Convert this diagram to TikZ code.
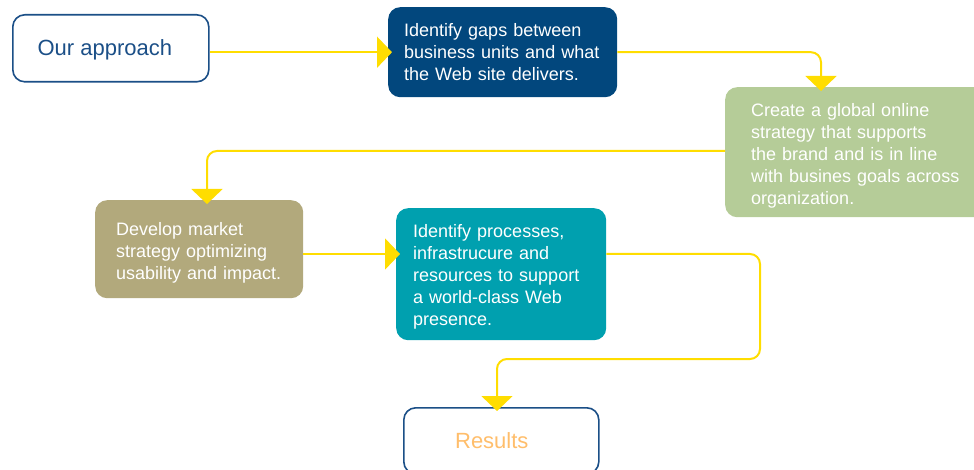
\documentclass[tikz,border=0pt]{standalone}
\usepackage{fontspec}
\setmainfont{Liberation Sans}
\usetikzlibrary{arrows.meta,calc}
\definecolor{navy}{HTML}{02477D}
\definecolor{bordblue}{HTML}{1B4F87}
\definecolor{sage}{HTML}{B5CC98}
\definecolor{khaki}{HTML}{B2A97C}
\definecolor{teal2}{HTML}{00A0AF}
\definecolor{yel}{HTML}{FFDD00}
\definecolor{orng}{HTML}{FFBE6B}
\tikzset{
  outline/.style={draw=bordblue, line width=1.6pt, rounded corners=12pt, fill=white, anchor=north west, inner sep=0pt, font=\fontsize{22}{26}\selectfont},
  filled/.style={rounded corners=12pt, anchor=north west, inner ysep=0pt, align=left, text=white, font=\fontsize{18}{22}\selectfont},
  conn/.style={draw=yel, line width=2pt, rounded corners=10pt, -{Triangle[width=31pt,length=15pt]}, shorten >=-4pt}
}
\begin{document}
\begin{tikzpicture}[x=1pt,y=-1pt]
\useasboundingbox (0,0) rectangle (974,470);
\begin{scope}
\clip (0,0) rectangle (974,470);
\node[outline, minimum width=196pt, minimum height=67pt, text=bordblue] (oa) at (12,14) {\rule{0pt}{19pt}Our approach\rule{12pt}{0pt}};
\node[filled, fill=navy, minimum height=90pt, inner xsep=16pt, text width=197pt] (gap) at (388,7) {Identify gaps between\\business units and what\\the Web site delivers.};
\node[filled, fill=sage, minimum height=130pt, inner xsep=26pt, text width=225pt] (glob) at (725,87) {\rule{0pt}{21pt}Create a global online\\strategy that supports\\the brand and is in line\\with busines goals across\\organization.};
\node[filled, fill=khaki, minimum height=98pt, inner xsep=21pt, text width=166pt] (dev) at (95,200) {\rule{0pt}{21pt}Develop market\\strategy optimizing\\usability and impact.};
\node[filled, fill=teal2, minimum height=132pt, inner xsep=17pt, text width=176pt] (proc) at (396,208) {\rule{0pt}{19pt}Identify processes,\\infrastrucure and\\resources to support\\a world-class Web\\presence.};
\node[outline, minimum width=195pt, minimum height=66pt, text=orng] (res) at (403,407) {Results\rule{19pt}{0pt}};
\coordinate (pin) at ([yshift=-46pt]proc.north west);
\coordinate (pout) at ([yshift=-46pt]proc.north east);
\coordinate (gtop) at ([xshift=96pt]glob.north west);
\coordinate (dtop) at ([xshift=112pt]dev.north west);
\coordinate (rtop) at ([xshift=94pt]res.north west);
\coordinate (rc) at (760,359);
\draw[conn] (oa.east |- gap.west) -- (gap.west);
\draw[conn] (gap.east) -| (gtop);
\draw[conn] (glob.west |- 0,151) -| (dtop);
\draw[conn] (dev.east |- pin) -- (pin);
\draw[conn] (pout) -| (rc) -| (rtop);
\end{scope}
\end{tikzpicture}
\end{document}
